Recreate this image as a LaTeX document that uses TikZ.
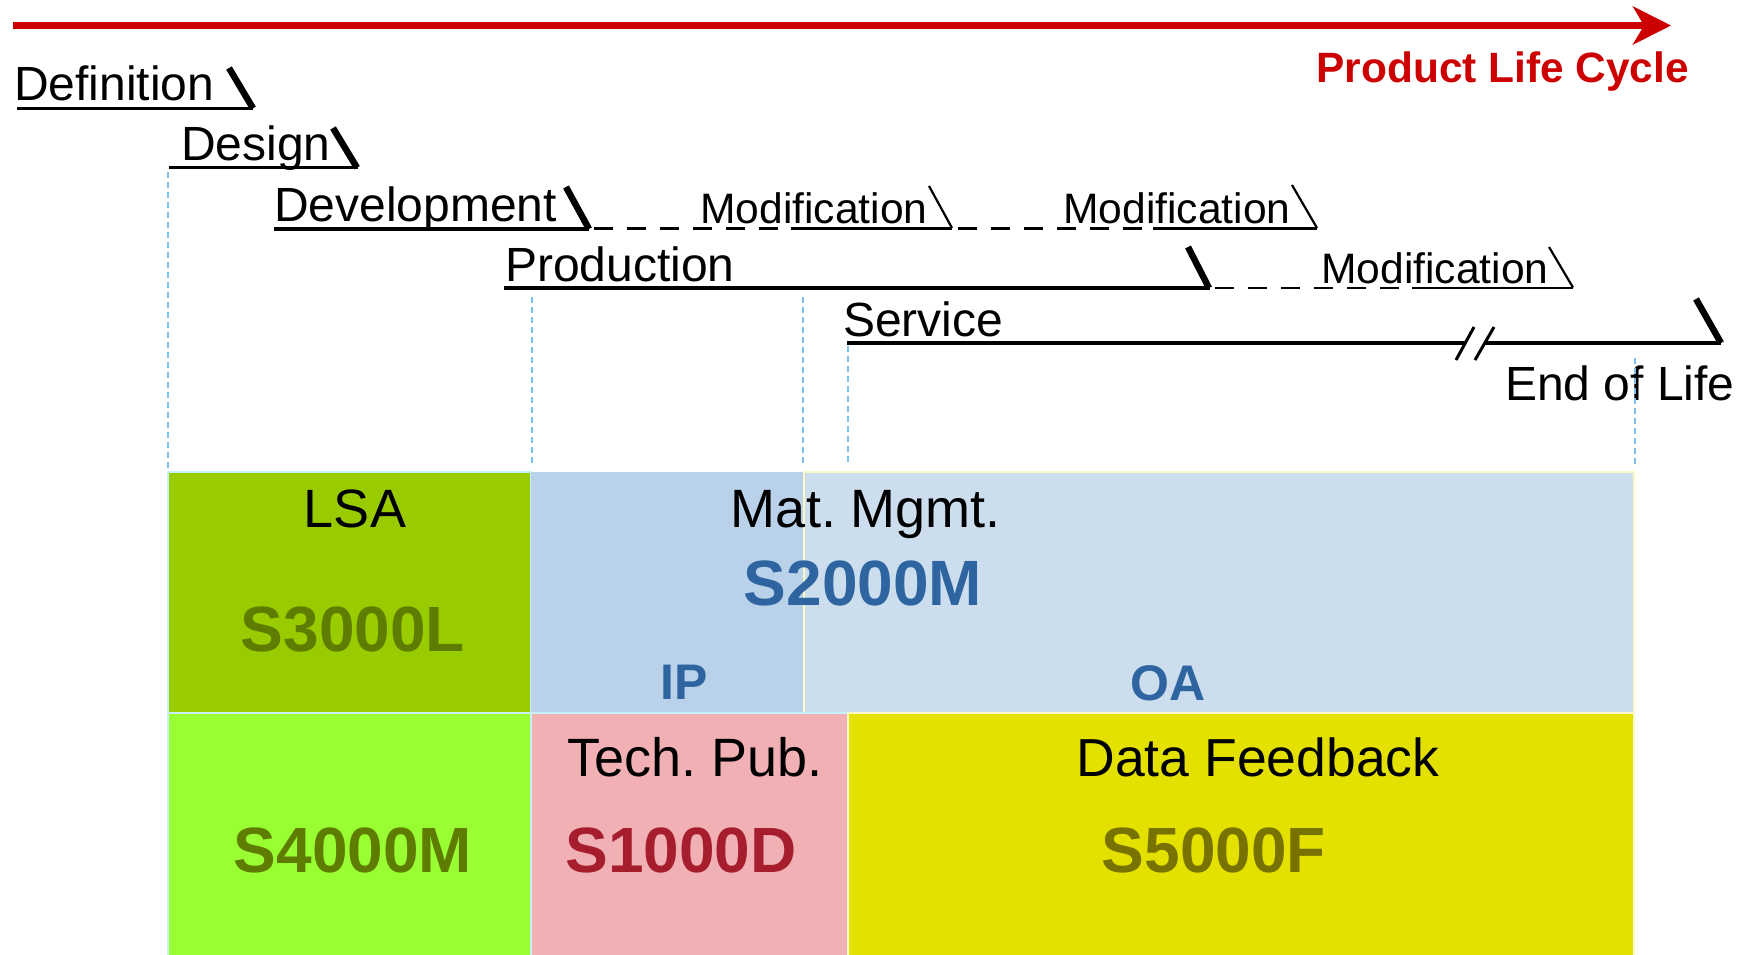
\documentclass[tikz,border=0pt]{standalone}
\usepackage{fontspec}
\setmainfont{Liberation Sans}
\usetikzlibrary{arrows.meta}
\definecolor{lcred}{RGB}{204,0,0}
\definecolor{lsagreen}{RGB}{153,204,0}
\definecolor{olivetext}{RGB}{94,125,0}
\definecolor{ipblue}{RGB}{185,210,234}
\definecolor{oablue}{RGB}{204,222,238}
\definecolor{codeblue}{RGB}{46,100,160}
\definecolor{brightgreen}{RGB}{153,255,51}
\definecolor{pubpink}{RGB}{240,176,180}
\definecolor{pubred}{RGB}{166,30,45}
\definecolor{dfyellow}{RGB}{228,225,0}
\definecolor{dftext}{RGB}{120,115,0}
\definecolor{guideblue}{RGB}{125,190,240}
\definecolor{cyanedge}{RGB}{200,240,250}
\definecolor{yellowedge}{RGB}{250,250,200}
\tikzset{
  phase/.style={anchor=base west, inner sep=0pt, font=\fontsize{48}{52}\selectfont},
  modlabel/.style={anchor=base west, inner sep=0pt, font=\fontsize{42.6}{48}\selectfont},
  boxlabel/.style={anchor=base, inner sep=0pt, font=\fontsize{54}{60}\selectfont},
  codelabel/.style={anchor=base, inner sep=0pt, font=\bfseries\fontsize{64}{70}\selectfont},
  sublabel/.style={anchor=base, inner sep=0pt, text=codeblue, font=\bfseries\fontsize{50}{56}\selectfont},
  uline/.style={line width=3.4pt},
  thinuline/.style={line width=2.3pt},
  dashuline/.style={line width=2.3pt, dash pattern=on 19pt off 14pt},
  thickslash/.style={line width=6.5pt},
  thinslash/.style={line width=2.2pt},
  breakmark/.style={line width=3pt},
  guide/.style={draw=guideblue, line width=1.5pt, dash pattern=on 6pt off 4pt},
}
\begin{document}
\frenchspacing
\begin{tikzpicture}[x=1pt,y=-1pt]
\useasboundingbox (0,0) rectangle (1748,954);
\fill[white] (0,0) rectangle (1748,954);

% ---- life cycle arrow ----
\coordinate (arrS) at (13,25.5);
\coordinate (arrE) at (1671,25.5);
\draw[lcred, line width=7.5pt, -{Stealth[length=38pt, width=38pt, inset=11pt]}] (arrS) -- (arrE);
\node[anchor=base east, inner sep=0pt, text=lcred, font=\bfseries\fontsize{42.4}{48}\selectfont] (plc) at (1689,82) {Product Life Cycle};

% ---- guides ----
\coordinate (g1a) at (168,172); \coordinate (g1b) at (168,470);
\coordinate (g2a) at (532,297); \coordinate (g2b) at (532,464);
\coordinate (g3a) at (803,297); \coordinate (g3b) at (803,464);
\coordinate (g4a) at (848,346); \coordinate (g4b) at (848,464);
\coordinate (g5a) at (1635,358); \coordinate (g5b) at (1635,464);
\draw[guide] (g1a) -- (g1b);
\draw[guide] (g2a) -- (g2b);
\draw[guide] (g3a) -- (g3b);
\draw[guide] (g4a) -- (g4b);

% ---- Definition ----
\node[phase] (def) at (14,100) {Definition};
\coordinate (defU0) at (17,108.3); \coordinate (defU1) at (253,108.3);
\coordinate (defSt) at (229,68); \coordinate (defSb) at (253,108.3);
\draw[uline] (defU0) -- (defU1);
\draw[thickslash] (defSt) -- (defSb);

% ---- Design ----
\node[phase] (des) at (181,160) {Design};
\coordinate (desU0) at (169,167.7); \coordinate (desU1) at (358,167.7);
\coordinate (desSt) at (333,128); \coordinate (desSb) at (357,167.7);
\draw[uline] (desU0) -- (desU1);
\draw[thickslash] (desSt) -- (desSb);

% ---- Development ----
\node[phase] (dev) at (274,221) {Development};
\coordinate (devU0) at (274,229); \coordinate (devU1) at (589,229);
\coordinate (devSt) at (566,187); \coordinate (devSb) at (589,229);
\draw[uline] (devU0) -- (devU1);
\draw[thickslash] (devSt) -- (devSb);
\coordinate (d1a) at (594,228.5); \coordinate (d1b) at (778,228.5);
\draw[dashuline] (d1a) -- (d1b);
\node[modlabel] (mod1) at (700,223) {Modification};
\coordinate (m1U0) at (791,228.5); \coordinate (m1U1) at (952,228.5);
\coordinate (m1St) at (929,186); \coordinate (m1Sb) at (952,228);
\draw[thinuline] (m1U0) -- (m1U1);
\draw[thinslash] (m1St) -- (m1Sb);
\coordinate (d2a) at (958,228.5); \coordinate (d2b) at (1142,228.5);
\draw[dashuline] (d2a) -- (d2b);
\node[modlabel] (mod2) at (1063,223) {Modification};
\coordinate (m2U0) at (1153,228.5); \coordinate (m2U1) at (1317,228.5);
\coordinate (m2St) at (1292,185); \coordinate (m2Sb) at (1317,228);
\draw[thinuline] (m2U0) -- (m2U1);
\draw[thinslash] (m2St) -- (m2Sb);

% ---- Production ----
\node[phase] (prod) at (505,281) {Production};
\coordinate (prU0) at (504,288); \coordinate (prU1) at (1210,288);
\coordinate (prSt) at (1188,247); \coordinate (prSb) at (1209,288);
\draw[line width=4pt] (prU0) -- (prU1);
\draw[thickslash] (prSt) -- (prSb);
\coordinate (d3a) at (1215,288); \coordinate (d3b) at (1399,288);
\draw[dashuline] (d3a) -- (d3b);
\node[modlabel] (mod3) at (1321,283) {Modification};
\coordinate (m3U0) at (1412,288); \coordinate (m3U1) at (1573,288);
\coordinate (m3St) at (1549,247); \coordinate (m3Sb) at (1573,287.5);
\draw[thinuline] (m3U0) -- (m3U1);
\draw[thinslash] (m3St) -- (m3Sb);

% ---- Service ----
\node[phase] (serv) at (843,336) {Service};
\coordinate (svU0) at (847,343); \coordinate (svU1) at (1466,343);
\coordinate (svU2) at (1485,343); \coordinate (svU3) at (1721,343);
\draw[uline] (svU0) -- (svU1);
\draw[uline] (svU2) -- (svU3);
\coordinate (bk1a) at (1456,360); \coordinate (bk1b) at (1474,327);
\coordinate (bk2a) at (1475,360); \coordinate (bk2b) at (1494,327);
\draw[breakmark] (bk1a) -- (bk1b);
\draw[breakmark] (bk2a) -- (bk2b);
\coordinate (svSt) at (1696,299); \coordinate (svSb) at (1721,343);
\draw[thickslash] (svSt) -- (svSb);
\node[phase] (eol) at (1505,400) {End of Life};
\draw[guide] (g5a) -- (g5b);

% ---- boxes ----
\coordinate (lsaA) at (168,472); \coordinate (lsaB) at (531,713);
\coordinate (ipA) at (531,472); \coordinate (ipB) at (804,713);
\coordinate (oaA) at (804,472); \coordinate (oaB) at (1634,713);
\coordinate (s4A) at (168,713); \coordinate (s4B) at (531,956);
\coordinate (tpA) at (531,713); \coordinate (tpB) at (848,956);
\coordinate (dfA) at (848,713); \coordinate (dfB) at (1634,956);
\path[fill=lsagreen, draw=cyanedge, line width=1.5pt] (lsaA) rectangle (lsaB);
\path[fill=ipblue] (ipA) rectangle (ipB);
\path[fill=oablue, draw=yellowedge, line width=1.5pt] (oaA) rectangle (oaB);
\path[fill=brightgreen, draw=cyanedge, line width=1.5pt] (s4A) rectangle (s4B);
\path[fill=pubpink, draw=cyanedge, line width=1.5pt] (tpA) rectangle (tpB);
\path[fill=dfyellow, draw=yellowedge, line width=1.5pt] (dfA) rectangle (dfB);

\node[boxlabel] (lsa) at (355,527) {LSA};
\node[codelabel, text=olivetext] (s3000l) at (353,651) {S3000L};
\node[boxlabel] (matm) at (866,527) {Mat. Mgmt.};
\node[codelabel, text=codeblue] (s2000m) at (863,605) {S2000M};
\node[sublabel] (ip) at (684,699) {IP};
\node[sublabel] (oa) at (1168,700) {OA};
\node[codelabel, text=olivetext] (s4000m) at (353,872) {S4000M};
\node[boxlabel] (tpub) at (695,776) {Tech. Pub.};
\node[codelabel, text=pubred] (s1000d) at (681,872) {S1000D};
\node[font=\fontsize{53.5}{60}\selectfont, anchor=base, inner sep=0pt] (dfb) at (1258,776) {Data Feedback};
\node[codelabel, text=dftext] (s5000f) at (1214,872) {S5000F};
\end{tikzpicture}
\end{document}
